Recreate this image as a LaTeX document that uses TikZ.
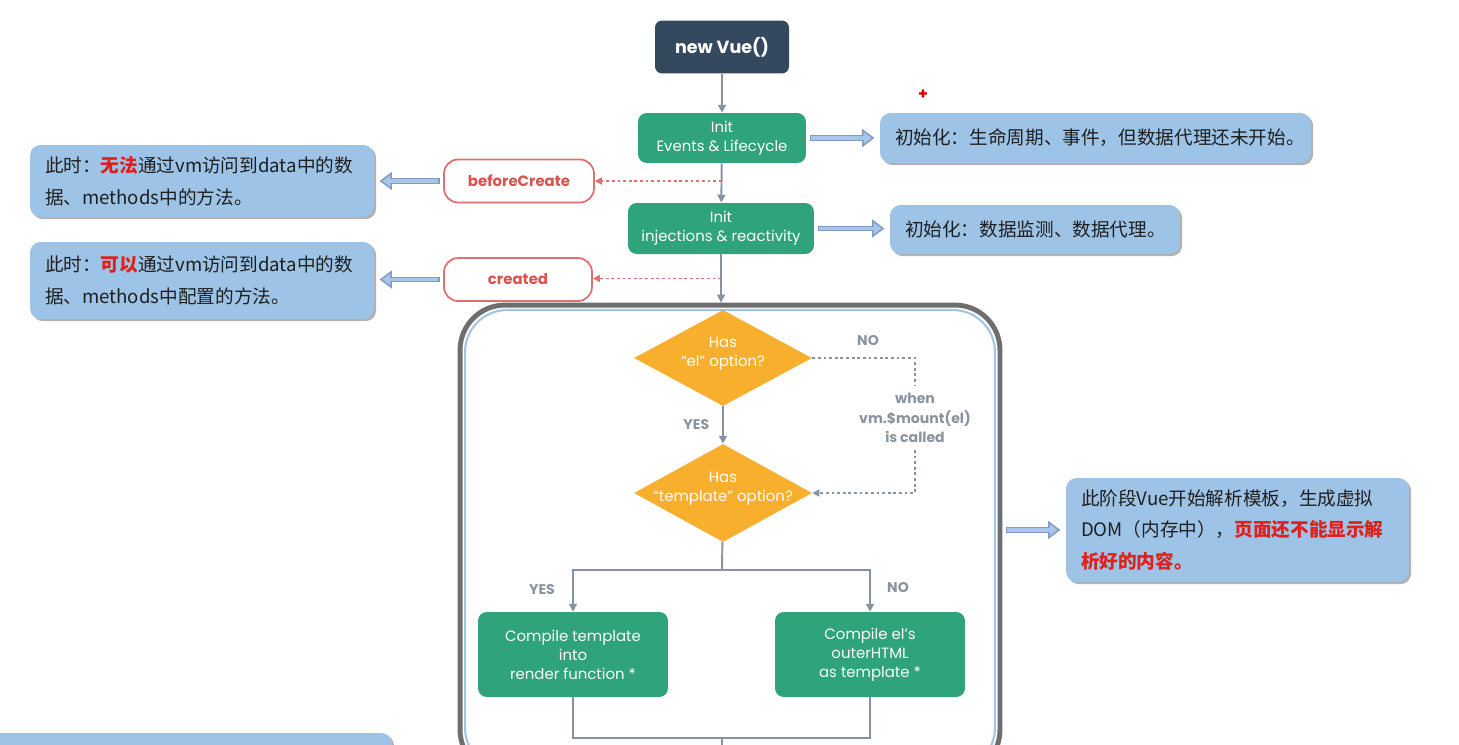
\documentclass[tikz,border=0pt]{standalone}
\usepackage{fontspec}
\setmainfont{Poppins}
\newfontfamily\cjk{Noto Sans CJK SC}
\usetikzlibrary{shapes.geometric,arrows.meta,shadows,calc}

\definecolor{vuenavy}{HTML}{34495E}
\definecolor{vuegreen}{HTML}{2FA37A}
\definecolor{vueorange}{HTML}{F8AF2E}
\definecolor{flowgray}{HTML}{8793A2}
\definecolor{hookred}{HTML}{D9534F}
\definecolor{hookline}{HTML}{E07070}
\definecolor{notefill}{HTML}{9DC3E6}
\definecolor{notered}{HTML}{E0201A}
\definecolor{arrowfill}{HTML}{A9C6E8}
\definecolor{arrowline}{HTML}{7E9CC4}
\definecolor{stagegray}{HTML}{6E6E6E}
\definecolor{stageblue}{HTML}{A4C4E4}
\definecolor{labelgray}{HTML}{8A939E}

\newcommand\redbold[1]{{\bfseries\color{notered}#1}}

\begin{document}
\begin{tikzpicture}[x=0.02cm,y=-0.02cm,
  start/.style={fill=vuenavy,rounded corners=4pt,text=white,font=\bfseries\fontsize{10}{12}\selectfont,
    minimum width=2.68cm,minimum height=1.06cm},
  stepbox/.style={fill=vuegreen,rounded corners=5pt,text=white,align=center,
    font=\fontsize{8.5}{10.8}\selectfont},
  hookbox/.style={draw=hookline,line width=1pt,fill=white,rounded corners=8pt,text=hookred,
    font=\bfseries\fontsize{8.5}{10}\selectfont,minimum width=3cm,minimum height=0.86cm},
  note/.style={fill=notefill,rounded corners=6pt,align=left,text=black!88,inner xsep=0.3cm,
    font=\cjk\fontsize{10.6}{18}\selectfont,
    drop shadow={shadow xshift=1.2pt,shadow yshift=-1.2pt,fill=black,opacity=0.3}},
  decision/.style={diamond,fill=vueorange,inner sep=0pt,minimum width=3.56cm,minimum height=1.92cm},
  asktext/.style={text=white,align=center,font=\fontsize{8.5}{10.8}\selectfont,yshift=2.6pt},
  tag/.style={text=labelgray,font=\bfseries\fontsize{8}{11}\selectfont},
  line/.style={draw=flowgray,line width=1.1pt},
  flow/.style={line,-{Triangle[length=4.5pt,width=4.5pt]}},
  hook/.style={draw=hookline,line width=1pt,dash pattern=on 1.6pt off 1.6pt,
    -{Triangle[length=4pt,width=4pt]}},
  mountline/.style={draw=flowgray,line width=1pt,dash pattern=on 1.6pt off 1.6pt},
  hollow/.style={draw=arrowline,line width=3.4pt,shorten <=2pt,shorten >=3pt,
    -{Triangle[length=7pt,width=10pt]},
    postaction={draw=arrowfill,line width=2pt,shorten <=2.7pt,shorten >=4.6pt,
      -{Triangle[length=4.6pt,width=6.6pt]}}}]

\useasboundingbox (0,0) rectangle (1459,744);
\clip (0,0) rectangle (1459,744);
\fill[white] (0,0) rectangle (1459,744);

% lifecycle start
\node (vue) at (722,47) [start] {new Vue()};
\node (ev) at (722,138) [stepbox,minimum width=3.36cm,minimum height=1cm] {Init\\Events \& Lifecycle};
\node (inj) at (721,228.5) [stepbox,minimum width=3.72cm,minimum height=1.02cm] {Init\\injections \& reactivity};
\node (cursor) at (923,95) [text=red!85!black,font=\bfseries\fontsize{9}{10}\selectfont] {+};

% hooks
\node (bc) at (519,181) [hookbox] {beforeCreate};
\node (cr) at (518,279.5) [hookbox,minimum width=2.96cm] {created};

% notes
\node (notebc) at (202,181) [note,text width=6.28cm,minimum height=1.44cm]
  {此时：\redbold{无法}通过vm访问到data中的数\\据、methods中的方法。};
\node (notecr) at (202,280.5) [note,text width=6.28cm,minimum height=1.54cm]
  {此时：\redbold{可以}通过vm访问到data中的数\\据、methods中配置的方法。};
\node (noteev) at (1095.5,138) [note,text width=8.02cm,minimum height=1cm]
  {初始化：生命周期、事件，但数据代理还未开始。};
\node (noteinj) at (1035,229.5) [note,text width=5.2cm,minimum height=0.98cm]
  {初始化：数据监测、数据代理。};
\node (notetpl) at (1237.5,530) [note,text width=6.26cm,minimum height=2.08cm]
  {此阶段Vue开始解析模板，生成虚拟\\DOM（内存中），\redbold{页面还不能显示解}\\\redbold{析好的内容。}};
\node (notenext) at (186,783) [note,minimum width=8.24cm,minimum height=2cm] {};

% template stage
\node (stage) at (730,540) [draw=stagegray,line width=2.8pt,rounded corners=0.9cm,
  minimum width=10.8cm,minimum height=9.4cm] {};
\node (stagein) at (stage.center) [draw=stageblue,line width=1.2pt,rounded corners=0.84cm,
  minimum width=10.6cm,minimum height=9.2cm] {};

\node (el) at (723,358) [decision,label={[asktext]center:{Has\\“el” option?}}] {};
\node (tpl) at (723,493) [decision,minimum height=1.96cm,
  label={[asktext]center:{Has\\“template” option?}}] {};
\node (ctpl) at (573,654.5) [stepbox,minimum width=3.8cm,minimum height=1.7cm]
  {Compile template\\into\\render function *};
\node (cel) at (870,654.5) [stepbox,minimum width=3.8cm,minimum height=1.7cm]
  {Compile el’s\\outerHTML\\as template *};
\node (mount) at (915,418) [tag,align=center,inner ysep=4pt] {when\\vm.\$mount(el)\\is called};
\node (no1) at (868,341) [tag] {NO};
\node (yes2) at (542,590) [tag] {YES};
\node (no2) at (898,588) [tag] {NO};

% connectors
\draw[flow] (vue) -- (ev);
\draw[flow] (ev) -- (inj);
\draw[flow] (inj.south) -- (inj.south |- stage.north);

\coordinate (bcfork) at ($(ev.south)!.45!(inj.north)$);
\coordinate (crfork) at ($(inj.south)!.5!(inj.south |- stage.north)$);
\draw[hook] (bcfork) -- (bcfork -| bc.east);
\draw[hook] (crfork) -- (crfork -| cr.east);

\draw[hollow] (bc.west) -- (bc.west -| notebc.east);
\draw[hollow] (cr.west) -- (cr.west -| notecr.east);
\draw[hollow] (ev.east) -- (ev.east -| noteev.west);
\draw[hollow] (inj.east) -- (inj.east -| noteinj.west);
\draw[hollow] (stage.east |- notetpl.west) -- (notetpl.west);

\draw[flow] (el) -- (tpl) node[tag,midway,left,xshift=-4pt] {YES};
\draw[mountline] (el.east) -| (mount.north);
\draw[mountline,-{Triangle[length=4pt,width=4pt]}] (mount.south) |- (tpl.east);

\coordinate (split) at (722,570);
\coordinate (join) at (722,738);
\draw[line] (tpl) -- (split);
\draw[flow] (split) -| (ctpl);
\draw[flow] (split) -| (cel);
\draw[line] (ctpl) |- (join) -| (cel);
\draw[line] (join) -- (join |- stage.south);

\end{tikzpicture}
\end{document}
